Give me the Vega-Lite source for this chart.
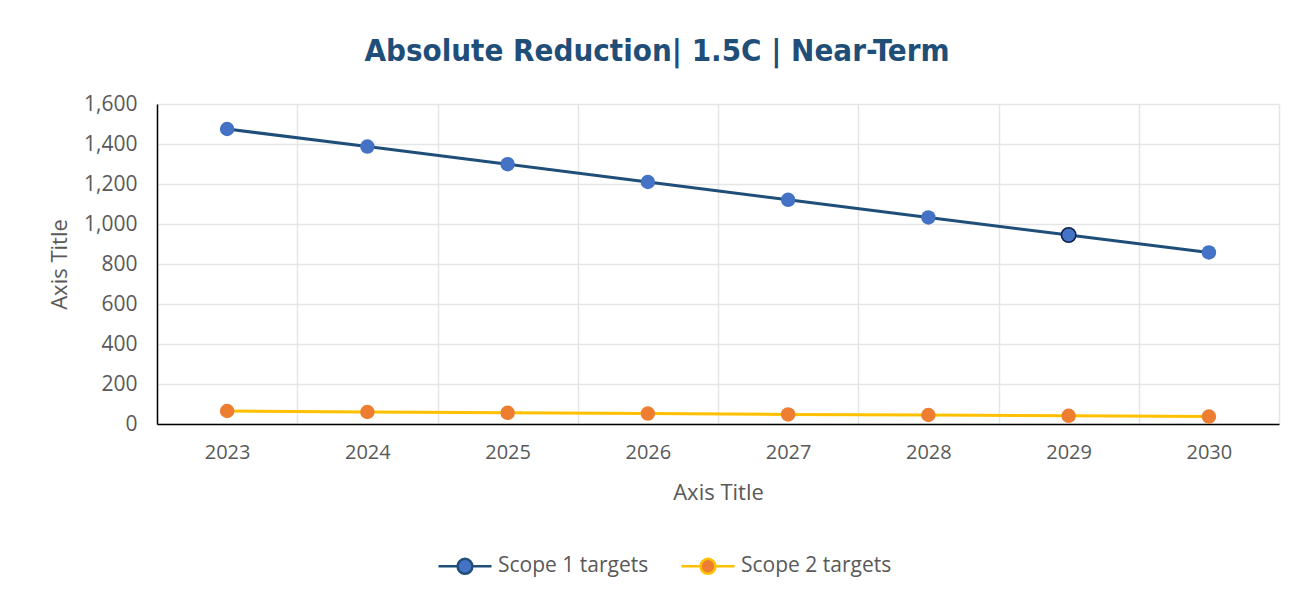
{
  "$schema": "https://vega.github.io/schema/vega-lite/v6.json",
  "width": 1122,
  "height": 320,
  "autosize": {"type": "none"},
  "padding": {"left": 157, "top": 104, "right": 25, "bottom": 175},
  "background": "white",
  "title": {
    "text": "Absolute Reduction| 1.5C | Near-Term",
    "font": "Liberation Sans Narrow, DejaVu Sans Condensed, Roboto",
    "fontSize": 31,
    "fontWeight": "bold",
    "color": "#1F4E79",
    "anchor": "middle",
    "dx": -61,
    "offset": 25
  },
  "data": {
    "values": [
      {"year": "2023", "series": "Scope 1 targets", "value": 1475},
      {"year": "2024", "series": "Scope 1 targets", "value": 1387},
      {"year": "2025", "series": "Scope 1 targets", "value": 1299},
      {"year": "2026", "series": "Scope 1 targets", "value": 1210},
      {"year": "2027", "series": "Scope 1 targets", "value": 1121},
      {"year": "2028", "series": "Scope 1 targets", "value": 1033},
      {"year": "2029", "series": "Scope 1 targets", "value": 945},
      {"year": "2030", "series": "Scope 1 targets", "value": 858},
      {"year": "2023", "series": "Scope 2 targets", "value": 65},
      {"year": "2024", "series": "Scope 2 targets", "value": 60},
      {"year": "2025", "series": "Scope 2 targets", "value": 56},
      {"year": "2026", "series": "Scope 2 targets", "value": 52},
      {"year": "2027", "series": "Scope 2 targets", "value": 48},
      {"year": "2028", "series": "Scope 2 targets", "value": 45},
      {"year": "2029", "series": "Scope 2 targets", "value": 41},
      {"year": "2030", "series": "Scope 2 targets", "value": 37}
    ]
  },
  "encoding": {
    "x": {
      "field": "year",
      "type": "ordinal",
      "scale": {"type": "band", "paddingInner": 0, "paddingOuter": 0},
      "axis": {
        "title": "Axis Title",
        "labelAngle": 0,
        "tickBand": "extent",
        "grid": true,
        "ticks": false,
        "labelPadding": 18,
        "titlePadding": 20
      }
    },
    "y": {
      "field": "value",
      "type": "quantitative",
      "scale": {"domain": [0, 1600], "nice": false},
      "axis": {
        "title": "Axis Title",
        "values": [0, 200, 400, 600, 800, 1000, 1200, 1400, 1600],
        "format": ",.0f",
        "grid": true,
        "ticks": false,
        "labelPadding": 20,
        "titlePadding": 12,
        "labelFontSize": 21
      }
    }
  },
  "layer": [
    {
      "mark": {"type": "line", "strokeWidth": 3},
      "encoding": {
        "stroke": {
          "field": "series",
          "type": "nominal",
          "scale": {"domain": ["Scope 1 targets", "Scope 2 targets"], "range": ["#1F4E79", "#FFC000"]},
          "legend": {
            "title": null,
            "orient": "none",
            "legendX": 280,
            "legendY": 434,
            "direction": "horizontal",
            "symbolType": "M-1,0H-0.3M0.3,0H1M-0.28,0A0.28,0.28 0 1,0 0.28,0A0.28,0.28 0 1,0 -0.28,0Z",
            "symbolSize": 2809,
            "symbolStrokeWidth": 2.5,
            "labelOffset": 5,
            "columnPadding": 27
          }
        }
      }
    },
    {
      "mark": {"type": "point", "filled": true, "size": 210, "opacity": 1},
      "encoding": {
        "fill": {
          "field": "series",
          "type": "nominal",
          "scale": {"domain": ["Scope 1 targets", "Scope 2 targets"], "range": ["#4472C4", "#ED7D31"]},
          "legend": {
            "title": null,
            "orient": "none",
            "legendX": 280,
            "legendY": 434,
            "direction": "horizontal",
            "symbolType": "M-1,0H-0.3M0.3,0H1M-0.28,0A0.28,0.28 0 1,0 0.28,0A0.28,0.28 0 1,0 -0.28,0Z",
            "symbolSize": 2809,
            "symbolStrokeWidth": 2.5,
            "labelOffset": 5,
            "columnPadding": 27
          }
        },
        "stroke": {
          "condition": {"test": "datum.year == '2029' && datum.series == 'Scope 1 targets'", "value": "#0B1F4A"},
          "value": "transparent"
        },
        "strokeWidth": {
          "condition": {"test": "datum.year == '2029' && datum.series == 'Scope 1 targets'", "value": 1.5},
          "value": 0
        }
      }
    }
  ],
  "config": {
    "view": {"stroke": null},
    "font": "Open Sans",
    "axis": {
      "labelFont": "Open Sans",
      "labelFontSize": 20,
      "labelColor": "#595959",
      "titleFont": "Open Sans",
      "titleFontSize": 22,
      "titleFontWeight": "normal",
      "titleColor": "#595959",
      "gridColor": "#E5E5E5",
      "gridWidth": 1.5,
      "domainColor": "#000000",
      "domainWidth": 1.5
    },
    "legend": {
      "labelFont": "Open Sans",
      "labelFontSize": 21,
      "labelColor": "#595959",
      "labelLimit": 400
    }
  }
}
